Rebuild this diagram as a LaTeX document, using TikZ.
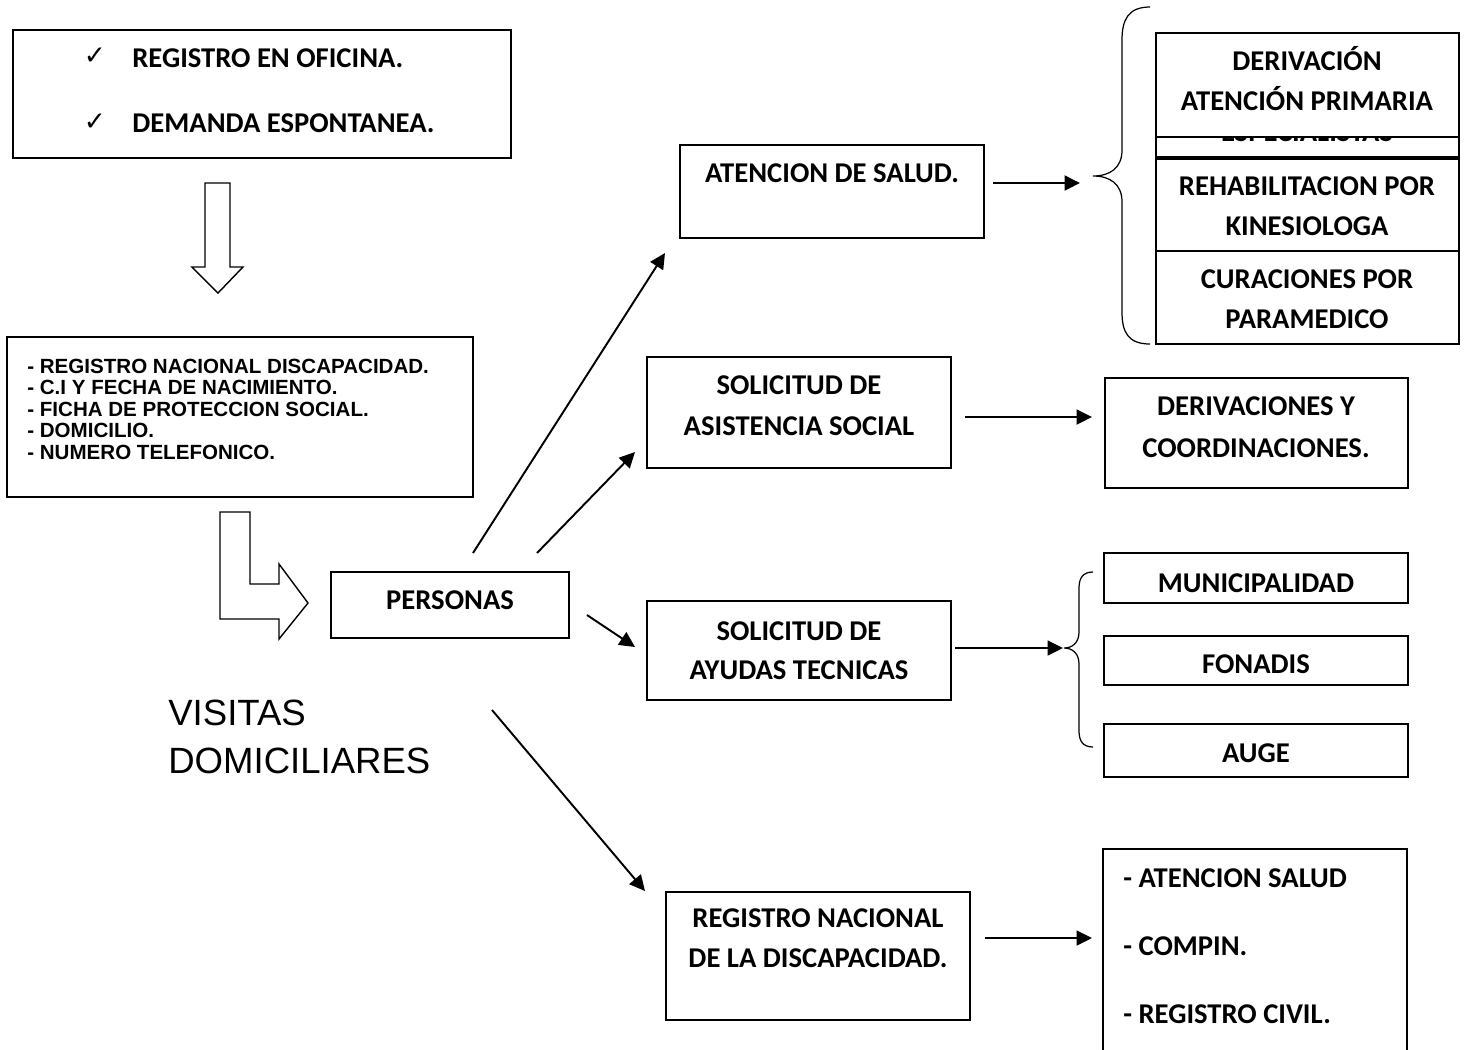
\documentclass[tikz,border=0pt]{standalone}
\usepackage{fontspec}
\setmainfont{Carlito}
\newfontfamily\arialf{Liberation Sans}
\newfontfamily\djv{DejaVu Sans}
\usetikzlibrary{arrows.meta,fit}
\begin{document}
\begin{tikzpicture}[x=0.02cm,y=-0.02cm,
 box/.style={draw, line width=1.1pt, inner sep=0pt, fill=white},
 t/.style={font=\bfseries\fontsize{16.3}{19}\selectfont, inner sep=0pt, anchor=base},
 tl/.style={t, anchor=base west},
 li/.style={font=\arialf\bfseries\fontsize{11.7}{13}\selectfont, inner sep=0pt, anchor=base west},
 vis/.style={font=\arialf\fontsize{20.8}{25}\selectfont, inner sep=0pt, anchor=base west},
 chk/.style={font=\djv\fontsize{15}{17}\selectfont, inner sep=0pt},
 arr/.style={line width=1.1pt, -{Triangle[length=0.31cm,width=0.3cm]}},
 brc/.style={line width=0.7pt},
 blk/.style={draw, line width=0.8pt, fill=white, line join=miter}]
\useasboundingbox (0,0) rectangle (1470,1049);
\clip (0,0) rectangle (1470,1049);

% ---- top-left box
\node[box, fit={(13,30)(511,158)}] (ingreso) {};
\node[chk] (ck1) at (95,56) {✓};
\node[chk] (ck2) at (95,122) {✓};
\node[tl] (ing1) at (132,67) {REGISTRO EN OFICINA.};
\node[tl] (ing2) at (132,132) {DEMANDA ESPONTANEA.};

% ---- down block arrow
\draw[blk] (205,183)--(230,183)--(230,267)--(243,267)--(218,293)--(192,267)--(205,267)--cycle;

% ---- list box
\node[box, fit={(7,337)(473,497)}] (datos) {};
\node[li] (d1) at (27,373) {- REGISTRO NACIONAL DISCAPACIDAD.};
\node[li] (d2) at (27,394.5) {- C.I Y FECHA DE NACIMIENTO.};
\node[li] (d3) at (27,416) {- FICHA DE PROTECCION SOCIAL.};
\node[li] (d4) at (27,437.5) {- DOMICILIO.};
\node[li] (d5) at (27,459) {- NUMERO TELEFONICO.};

% ---- L block arrow
\draw[blk] (220,512)--(250,512)--(250,584)--(279,584)--(279,564)--(308,603)--(279,639)--(279,619)--(220,619)--cycle;

% ---- personas
\node[box, fit={(331,572)(569,638)}] (pers) {};
\node[t] (persT) at (450,609) {PERSONAS};

% ---- visitas
\node[vis] (vis1) at (168,725) {VISITAS};
\node[vis] (vis2) at (168,773) {DOMICILIARES};

% ---- middle column
\node[box, fit={(680,145)(984,238)}] (salud) {};
\node[t] (saludT) at (832,182) {ATENCION DE SALUD.};

\node[box, fit={(647,357)(951,468)}] (asis) {};
\node[t] (asisT1) at (799,394) {SOLICITUD DE};
\node[t] (asisT2) at (799,435) {ASISTENCIA SOCIAL};

\node[box, fit={(647,601)(951,700)}] (ayud) {};
\node[t] (ayudT1) at (799,640) {SOLICITUD DE};
\node[t] (ayudT2) at (799,679) {AYUDAS TECNICAS};

\node[box, fit={(666,892)(970,1020)}] (rnd) {};
\node[t] (rndT1) at (818,927) {REGISTRO NACIONAL};
\node[t] (rndT2) at (818,967) {DE LA DISCAPACIDAD.};

% ---- right stack (health)
\node[box, fit={(1156,115)(1459,157)}] (esp) {};
\node[t] (espT) at (1307,141) {ESPECIALISTAS};
\node[box, fit={(1156,33)(1459,137)}] (deriv) {};
\node[t] (derivT1) at (1307,70) {DERIVACIÓN};
\node[t] (derivT2) at (1307,110) {ATENCIÓN PRIMARIA};
\node[box, fit={(1156,159)(1459,251)}] (rehab) {};
\node[t] (rehabT1) at (1307,195) {REHABILITACION POR};
\node[t] (rehabT2) at (1307,235) {KINESIOLOGA};
\node[box, fit={(1156,251)(1459,344)}] (cura) {};
\node[t] (curaT1) at (1307,288) {CURACIONES POR};
\node[t] (curaT2) at (1307,328) {PARAMEDICO};

\coordinate (brA) at (1093,176);
\draw[brc] (1150,7) .. controls (1128,7) and (1122,20) .. (1122,40) -- (1122,150)
  .. controls (1122,168) and (1110,176) .. (brA)
  .. controls (1110,176) and (1122,184) .. (1122,202) -- (1122,312)
  .. controls (1122,332) and (1128,344) .. (1150,344);

% ---- derivaciones
\node[box, fit={(1105,378)(1408,488)}] (dercoor) {};
\node[t] (dercoorT1) at (1256,415) {DERIVACIONES Y};
\node[t] (dercoorT2) at (1256,457) {COORDINACIONES.};

% ---- technical aid
\node[box, fit={(1104,553)(1408,603)}] (muni) {};
\node[t] (muniT) at (1256,592) {MUNICIPALIDAD};
\node[box, fit={(1104,636)(1408,685)}] (fona) {};
\node[t] (fonaT) at (1256,673) {FONADIS};
\node[box, fit={(1104,724)(1408,777)}] (auge) {};
\node[t] (augeT) at (1256,762) {AUGE};

\coordinate (brB) at (1064,648);
\draw[brc] (1093,572) .. controls (1083,572) and (1079,578) .. (1079,588) -- (1079,632)
  .. controls (1079,643) and (1072,648) .. (brB)
  .. controls (1072,648) and (1079,653) .. (1079,664) -- (1079,731)
  .. controls (1079,741) and (1083,747) .. (1093,747);

% ---- bottom-right box
\node[box, fit={(1103,849)(1407,1070)}] (tram) {};
\node[tl] (tram1) at (1123,887) {- ATENCION SALUD};
\node[tl] (tram2) at (1123,955) {- COMPIN.};
\node[tl] (tram3) at (1123,1023) {- REGISTRO CIVIL.};

% ---- connectors
\coordinate (p1) at (473,553);
\coordinate (s1) at (665,253);
\coordinate (p2) at (537,553);
\coordinate (s2) at (635,452);
\coordinate (p3) at (587,615);
\coordinate (s3) at (635,647);
\coordinate (p4) at (492,710);
\coordinate (s4) at (645,891);
\draw[arr] (p1) -- (s1);
\draw[arr] (p2) -- (s2);
\draw[arr] (p3) -- (s3);
\draw[arr] (p4) -- (s4);

\coordinate (h1a) at (993,183);
\coordinate (h1b) at (1080,183);
\draw[arr] (h1a) -- (h1b);
\coordinate (h2a) at (965,417);
\coordinate (h2b) at (1092,417);
\draw[arr] (h2a) -- (h2b);
\coordinate (h3a) at (955,648);
\coordinate (h3b) at (1063,648);
\draw[arr] (h3a) -- (h3b);
\coordinate (h4a) at (985,938);
\coordinate (h4b) at (1092,938);
\draw[arr] (h4a) -- (h4b);
\end{tikzpicture}
\end{document}
